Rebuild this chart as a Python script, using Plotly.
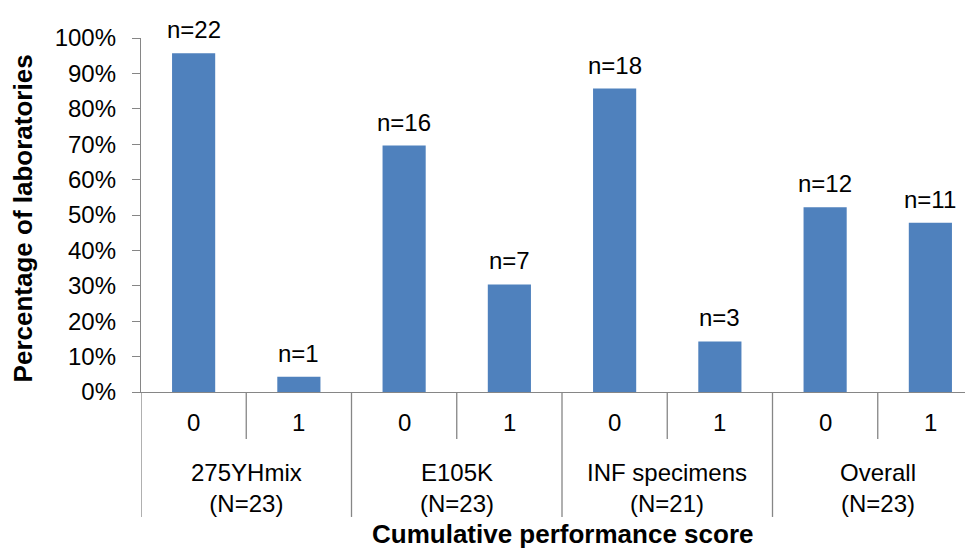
import plotly.graph_objects as go

# ---- data ----
groups = ["275YHmix", "E105K", "INF specimens", "Overall"]
group_N = [23, 23, 21, 23]
scores = ["0", "1"]
percent = [95.7, 4.3, 69.6, 30.4, 85.7, 14.3, 52.2, 47.8]
counts = [22, 1, 16, 7, 18, 3, 12, 11]
y_ticks = [0, 10, 20, 30, 40, 50, 60, 70, 80, 90, 100]

FONT = "Liberation Sans, Arial, sans-serif"
BLUE = "#4F81BD"
AXIS = "#868686"
FS = 24

xpos = list(range(len(percent)))

fig = go.Figure()
fig.add_trace(go.Bar(
    x=xpos, y=percent, width=0.41,
    marker=dict(color=BLUE, line=dict(width=0)),
    hoverinfo="skip",
))

annotations = []
# n= labels above bars
for x, v, n in zip(xpos, percent, counts):
    annotations.append(dict(x=x, y=v, xref="x", yref="y", text=f"n={n}",
                            showarrow=False, yanchor="bottom", yshift=8,
                            font=dict(family=FONT, size=FS, color="#000")))
# score labels (0 / 1)
for x in xpos:
    annotations.append(dict(x=x, y=-0.085, xref="x", yref="paper",
                            text=scores[x % 2], showarrow=False,
                            yanchor="middle",
                            font=dict(family=FONT, size=FS, color="#000")))
# group labels
for g, (name, N) in enumerate(zip(groups, group_N)):
    annotations.append(dict(x=2 * g + 0.5, y=-0.27, xref="x", yref="paper",
                            text=f"{name}<br>(N={N})", showarrow=False,
                            yanchor="middle",
                            font=dict(family=FONT, size=FS, color="#000")))
# axis titles
annotations.append(dict(x=3.5, y=-0.402, xref="x", yref="paper",
                        text="<b>Cumulative performance score</b>", showarrow=False,
                        yanchor="middle",
                        font=dict(family=FONT, size=26, color="#000")))
annotations.append(dict(x=-0.142, y=0.49, xref="paper", yref="paper",
                        text="<b>Percentage of laboratories</b>", showarrow=False,
                        textangle=-90, xanchor="center", yanchor="middle",
                        font=dict(family=FONT, size=26, color="#000")))

shapes = []
for b in range(len(percent)):
    edge = b - 0.5
    y1 = -0.353 if b % 2 == 0 else -0.133
    shapes.append(dict(type="line", xref="x", yref="paper",
                       x0=edge, x1=edge, y0=0, y1=y1,
                       line=dict(color=AXIS, width=1.3)))

# page body has an 8px margin, so the figure is 8px smaller and shifted
fig.update_layout(
    width=965, height=541,
    margin=dict(l=133, r=0, t=30, b=157),
    paper_bgcolor="white", plot_bgcolor="white",
    showlegend=False,
    annotations=annotations,
    shapes=shapes,
    xaxis=dict(range=[-0.5, 7.405], showticklabels=False, ticks="",
               showgrid=False, zeroline=False, showline=True,
               linecolor=AXIS, linewidth=1.3, fixedrange=True),
    yaxis=dict(range=[0, 100], tickvals=y_ticks,
               ticktext=[f"{t}%" for t in y_ticks],
               ticks="outside", ticklen=8, tickcolor=AXIS, tickwidth=1.3,
               showgrid=False, zeroline=False, showline=True,
               linecolor=AXIS, linewidth=1.3, ticklabelstandoff=11,
               tickfont=dict(family=FONT, size=FS, color="#000"),
               fixedrange=True),
)

fig.write_html("out.html")
